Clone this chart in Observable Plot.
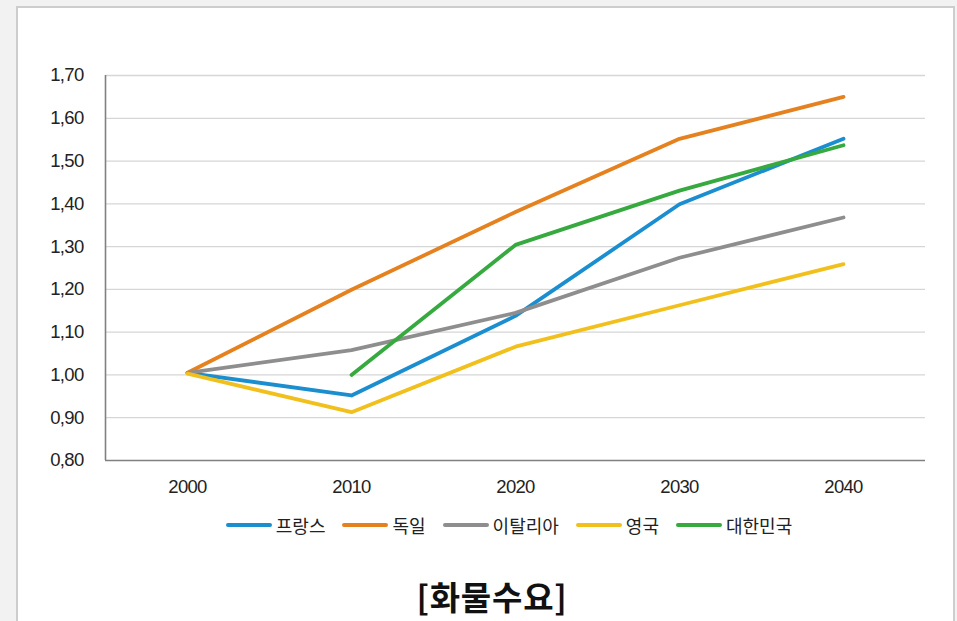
<!DOCTYPE html>
<html>
<head>
<meta charset="utf-8">
<script src="https://cdn.jsdelivr.net/npm/d3@7"></script>
<script src="https://cdn.jsdelivr.net/npm/@observablehq/plot@0.6"></script>
<style>
  html, body { margin: 0; padding: 0; background: #f2f2f2; width: 957px; height: 621px; overflow: hidden; }
  #card { position: absolute; left: 16px; top: 6px; width: 935px; height: 700px; background: #fff; border: 2px solid #cdcdcd; }
  #chart { position: absolute; left: 0; top: 0; }
  #legend { position: absolute; top: 512px; left: 0; width: 1018px; display: flex; justify-content: center; font-family: "Noto Sans CJK KR", sans-serif; font-size: 18px; color: #222; white-space: nowrap; }
  .item { display: flex; align-items: center; margin: 0 8.5px; flex-shrink: 0; }
  .sw { width: 46px; height: 4px; border-radius: 2px; margin-right: 4px; flex-shrink: 0; }
  #title { position: absolute; top: 572px; left: 0; width: 984px; text-align: center; font-family: "Noto Sans CJK KR", sans-serif; font-weight: 700; font-size: 33px; letter-spacing: 0.8px; color: #111; }
</style>
</head>
<body>
<div id="card"></div>
<div id="chart"></div>
<div id="legend"></div>
<div id="title">[화물수요]</div>
<script>
const years = [2000, 2010, 2020, 2030, 2040];
const seriesNames = ["프랑스", "독일", "이탈리아", "영국", "대한민국"];
const france  = [1.005, 0.952, 1.138, 1.399, 1.552];
const germany = [1.005, 1.199, 1.381, 1.552, 1.650];
const italy   = [1.005, 1.058, 1.145, 1.274, 1.368];
const uk      = [1.003, 0.913, 1.066, 1.163, 1.259];
const korea   = [null, 1.000, 1.304, 1.431, 1.537];
const seriesColors = ["#1b8ed0", "#e5821f", "#8e8e8e", "#f2c01d", "#36a93f"];
const yTicks = [0.8, 0.9, 1.0, 1.1, 1.2, 1.3, 1.4, 1.5, 1.6, 1.7];

const allSeries = [france, germany, italy, uk, korea];
const rows = [];
allSeries.forEach((vals, si) => {
  vals.forEach((v, i) => {
    if (v != null) rows.push({ year: years[i], value: v, series: seriesNames[si] });
  });
});

const font = '"Liberation Sans", Arial, sans-serif';

const plot = Plot.plot({
  width: 957,
  height: 500,
  marginLeft: 105,
  marginRight: 32,
  marginTop: 75,
  marginBottom: 40,
  style: { fontFamily: font, fontSize: "18.5px", color: "#222", background: "transparent" },
  x: { type: "linear", domain: [1995, 2045], ticks: years, tickFormat: d => String(d), tickSize: 0, tickPadding: 19, label: null },
  y: { domain: [0.8, 1.7], ticks: yTicks, tickFormat: d => d3.format(".2f")(d).replace(".", ","), tickSize: 0, tickPadding: 22, label: null },
  color: { domain: seriesNames, range: seriesColors },
  marks: [
    Plot.ruleY(yTicks.slice(1), { stroke: "#d6d6d6", strokeWidth: 1.3 }),
    Plot.ruleY([0.8], { stroke: "#808080", strokeWidth: 1.6 }),
    Plot.ruleX([1995], { stroke: "#808080", strokeWidth: 1.6 }),
    Plot.line(rows, { x: "year", y: "value", z: "series", stroke: "series", strokeWidth: 3.8 })
  ]
});
plot.querySelectorAll("text").forEach(t => t.setAttribute("letter-spacing", "-0.7"));
document.getElementById("chart").append(plot);

const legend = document.getElementById("legend");
seriesNames.forEach((n, i) => {
  const it = document.createElement("div");
  it.className = "item";
  const sw = document.createElement("div");
  sw.className = "sw";
  sw.style.background = seriesColors[i];
  const lb = document.createElement("span");
  lb.textContent = n;
  it.append(sw, lb);
  legend.append(it);
});
</script>
</body>
</html>
